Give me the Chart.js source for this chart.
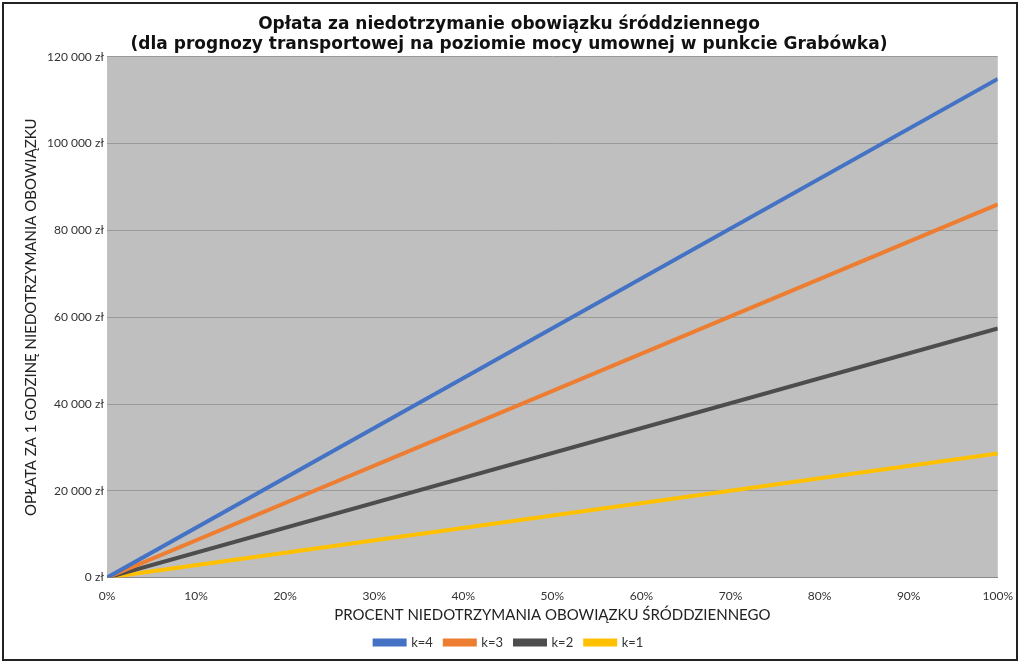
<!DOCTYPE html>
<html>
<head>
<meta charset="utf-8">
<script src="https://cdn.jsdelivr.net/npm/chart.js@4"></script>
<style>
  html, body { margin: 0; padding: 0; background: #fff; }
  #wrap { position: absolute; left: 2px; top: 2px; width: 1016px; height: 659px; border: 2px solid #222; box-sizing: border-box; }
</style>
</head>
<body>
<div id="wrap"><canvas id="c" width="1012" height="655"></canvas></div>
<script>
const percents = [0, 100];
const seriesLabels = ['k=4', 'k=3', 'k=2', 'k=1'];
const k4 = [0, 114900];
const k3 = [0, 86000];
const k2 = [0, 57400];
const k1 = [0, 28600];
const colors = ['#4472C4', '#ED7D31', '#4D4D4D', '#FFC000'];

const fmtZl = (v) => v.toLocaleString('pl-PL').replace(/\s/g, ' ') + ' zł';

const plotBg = {
  id: 'plotBg',
  beforeDraw(chart) {
    const { ctx, chartArea: a } = chart;
    ctx.save();
    ctx.fillStyle = '#BFBFBF';
    ctx.fillRect(a.left, a.top, a.right - a.left, a.bottom - a.top);
    ctx.restore();
  }
};

const mk = (label, vals, color) => ({
  label,
  data: percents.map((p, i) => ({ x: p, y: vals[i] })),
  borderColor: color,
  backgroundColor: color,
  borderWidth: 4,
  pointRadius: 0,
  tension: 0
});

new Chart(document.getElementById('c'), {
  type: 'line',
  data: { datasets: [mk(seriesLabels[0], k4, colors[0]), mk(seriesLabels[1], k3, colors[1]), mk(seriesLabels[2], k2, colors[2]), mk(seriesLabels[3], k1, colors[3])] },
  plugins: [plotBg],
  options: {
    responsive: false,
    animation: false,
    layout: { padding: { left: 14, right: 16, top: 0, bottom: 0 } },
    plugins: {
      title: {
        display: true,
        text: ['Opłata za niedotrzymanie obowiązku śróddziennego', '(dla prognozy transportowej na poziomie mocy umownej w punkcie Grabówka)'],
        font: { family: 'DejaVu Sans', size: 17, weight: 'bold' },
        color: '#111',
        padding: { top: 10, bottom: 2 },
        lineHeight: 1.25
      },
      legend: {
        position: 'bottom',
        labels: { font: { family: 'Lato', size: 13 }, color: '#333', boxWidth: 30, boxHeight: 4, padding: 12 }
      }
    },
    scales: {
      x: {
        type: 'linear', min: 0, max: 100,
        ticks: { stepSize: 10, callback: (v) => v + '%', color: '#333', font: { family: 'Lato', size: 12 } },
        grid: { display: false },
        border: { color: '#888' },
        title: { display: true, text: 'PROCENT NIEDOTRZYMANIA OBOWIĄZKU ŚRÓDDZIENNEGO', color: '#222', font: { family: 'Lato', size: 15 }, padding: { top: 0, bottom: 0 } }
      },
      y: {
        min: 0, max: 120000,
        ticks: { stepSize: 20000, callback: fmtZl, color: '#333', font: { family: 'Lato', size: 12 } },
        grid: { color: '#9a9a9a', drawTicks: false },
        border: { display: false },
        title: { display: true, text: 'OPŁATA ZA 1 GODZINĘ NIEDOTRZYMANIA OBOWIĄZKU', color: '#222', font: { family: 'Lato', size: 15 } }
      }
    }
  }
});
</script>
</body>
</html>
